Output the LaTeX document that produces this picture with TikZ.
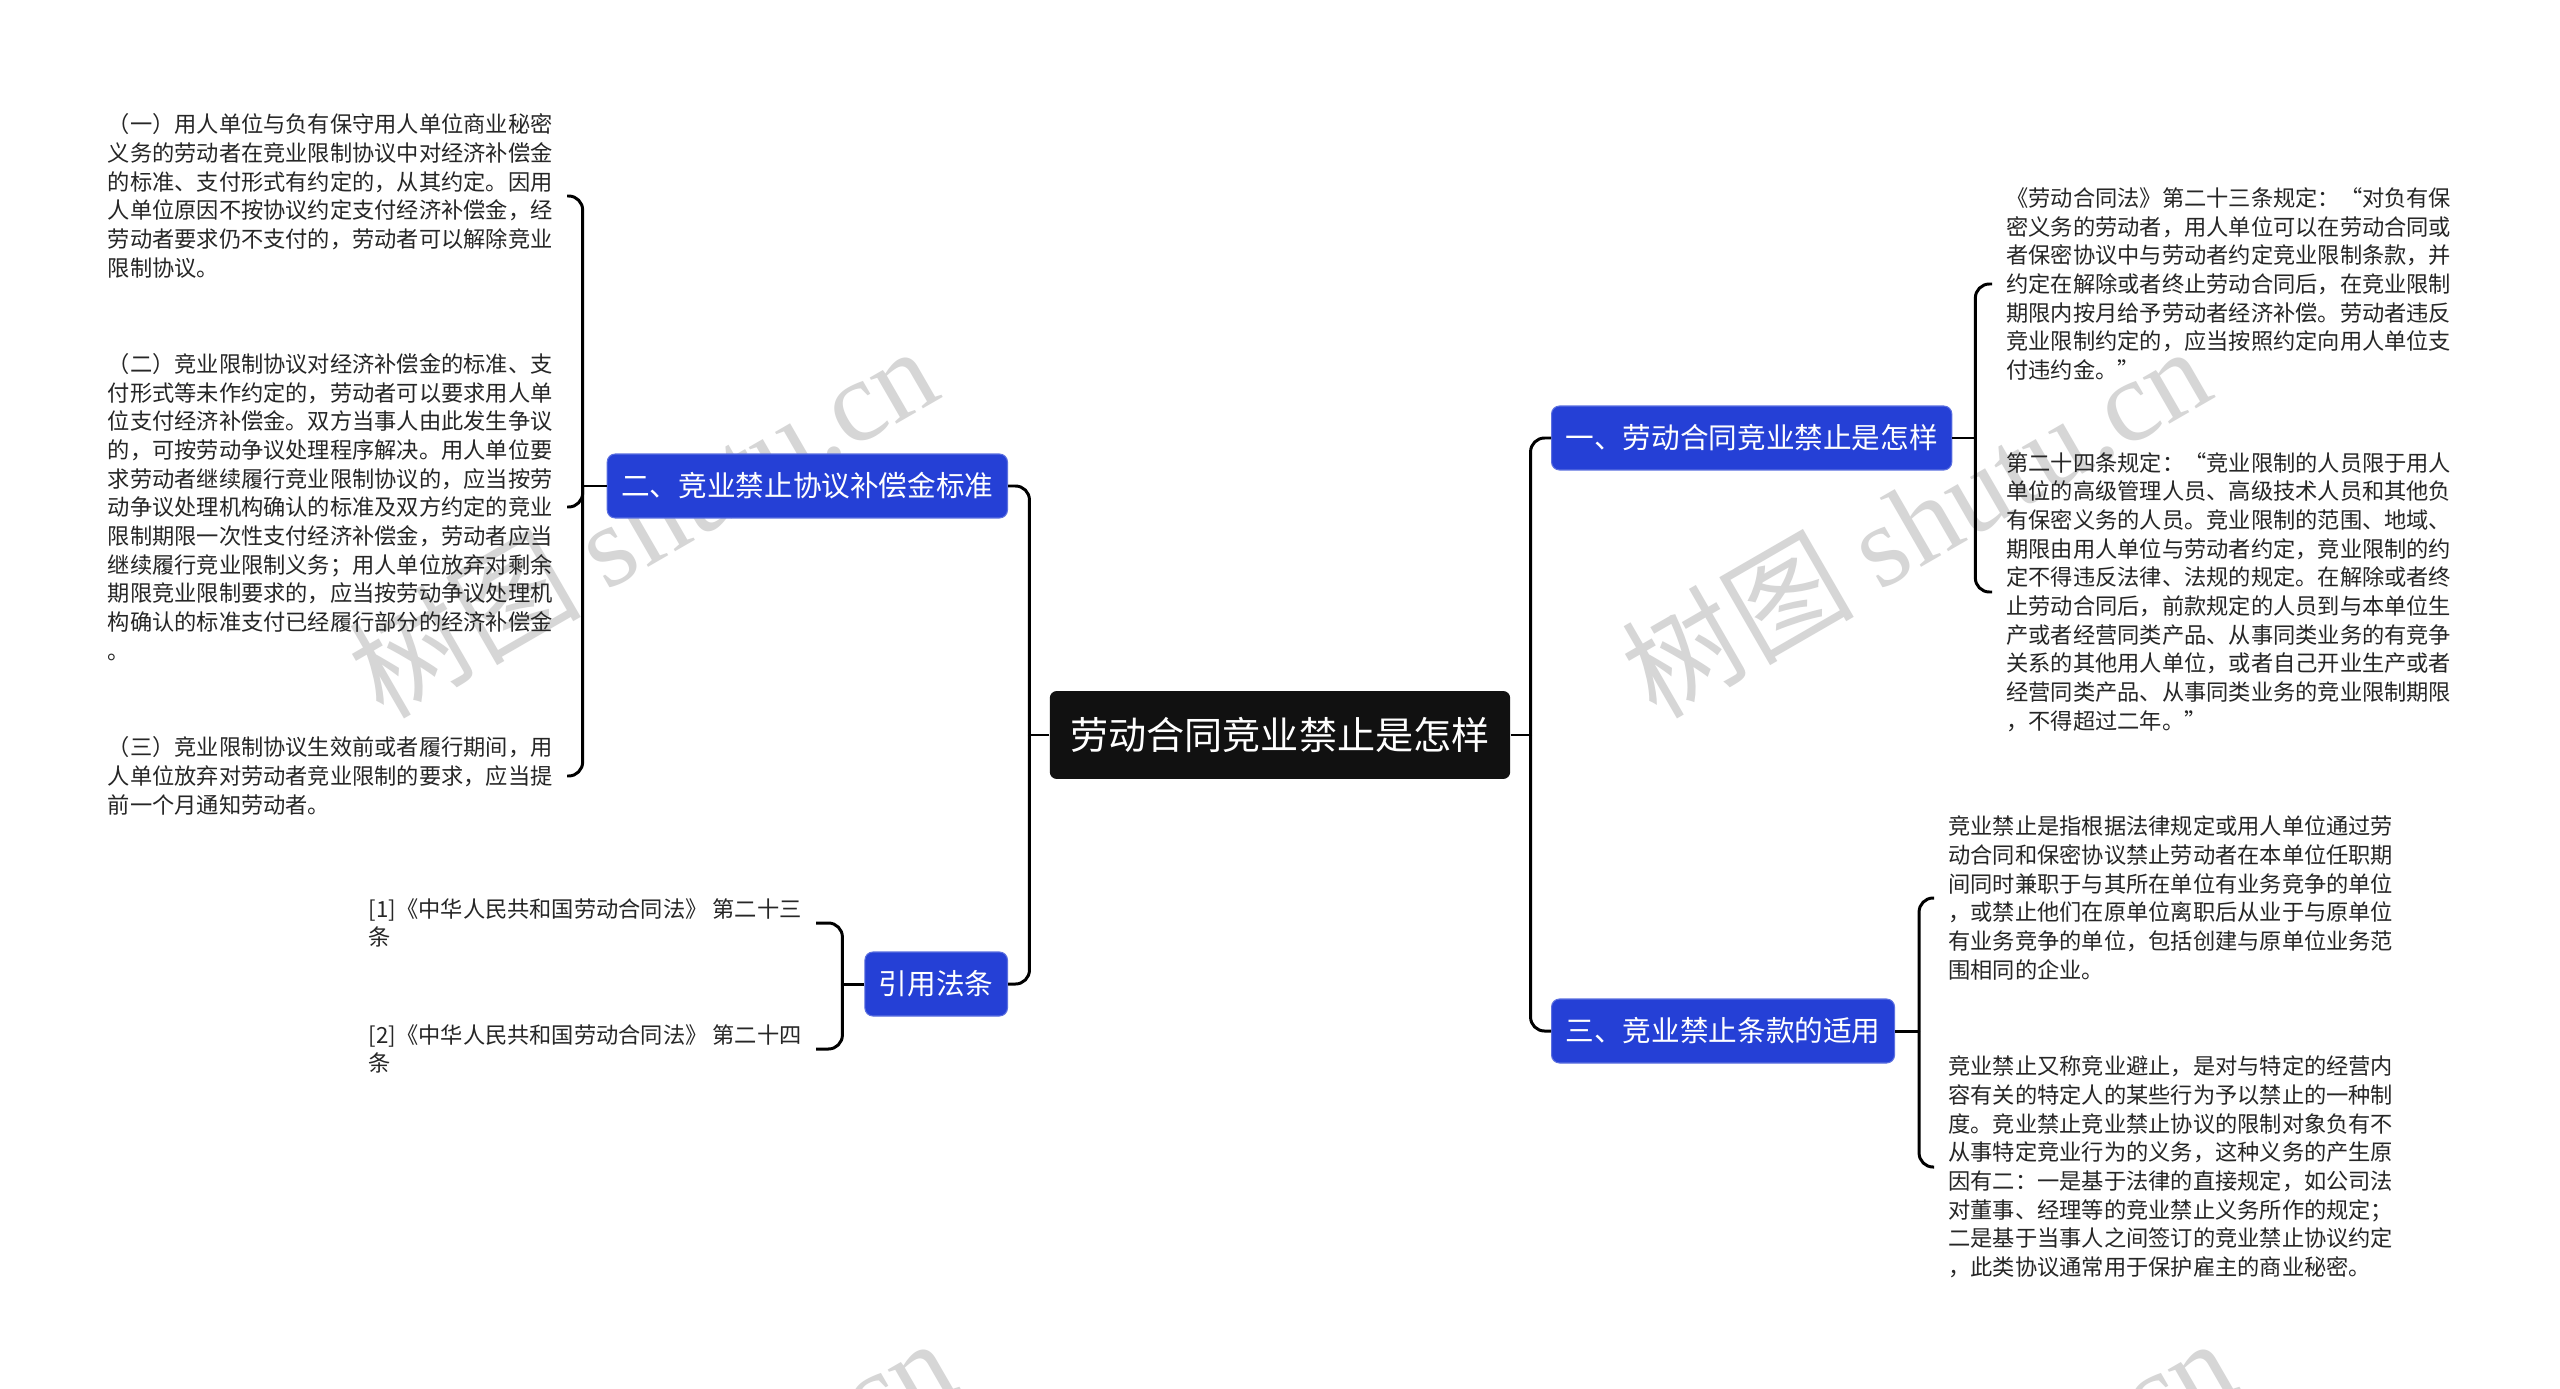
\documentclass[tikz,border=0pt]{standalone}
\usepackage{fontspec}
\setmainfont{Noto Sans CJK SC}
\newfontfamily\wmfont{Liberation Serif}
\definecolor{shutuBlue}{RGB}{37,64,214}
\definecolor{shutuDark}{RGB}{17,17,17}
\usepackage{tikz}
\usetikzlibrary{positioning}

\begin{document}
\begin{tikzpicture}[x=0.02cm, y=-0.02cm,
    rootbox/.style={fill=shutuDark, text=white, rounded corners=0.14cm,
      minimum height=1.76cm, inner xsep=0.41cm, font=\fontsize{21.7pt}{26pt}\selectfont},
    topic/.style={fill=shutuBlue, draw=shutuBlue!75!white, line width=0.6pt, text=white,
      rounded corners=0.16cm, minimum height=1.28cm, inner xsep=0.28cm,
      font=\fontsize{16.3pt}{20pt}\selectfont},
    leafnote/.style={align=left, inner xsep=0.28cm, inner ysep=0pt, text=black!85,
      font=\fontsize{12.66pt}{16.33pt}\selectfont},
    conn/.style={line width=1.7pt, rounded corners=0.28cm},
    wmark/.style={rotate=30, text=black!16, font=\fontsize{66pt}{66pt}\selectfont}
  ]
  \useasboundingbox[fill=white] (0,0) rectangle (2560,1389);
  \foreach \x/\y [count=\i] in {642/520, 1915/520, 660/1512, 1940/1512} {
    \node[wmark] (wm\i) at (\x,\y) {树图 {\wmfont shutu.cn}};
  }

  \node[rootbox] (root) at (1280,735) {劳动合同竞业禁止是怎样};
  \node[topic, anchor=east] (n2) at (1008,486) {二、竞业禁止协议补偿金标准};
  \node[topic, anchor=east] (n4) at (1008,984) {引用法条};
  \node[topic, anchor=west] (n1) at (1551,438) {一、劳动合同竞业禁止是怎样};
  \node[topic, anchor=west] (n3) at (1551,1031) {三、竞业禁止条款的适用};

  % left side
  \node[leafnote, anchor=east] (l21) at (567,196) {（一）用人单位与负有保守用人单位商业秘密\\
    义务的劳动者在竞业限制协议中对经济补偿金\\
    的标准、支付形式有约定的，从其约定。因用\\
    人单位原因不按协议约定支付经济补偿金，经\\
    劳动者要求仍不支付的，劳动者可以解除竞业\\
    限制协议。};
  \node[leafnote, anchor=east] (l22) at (567,507) {（二）竞业限制协议对经济补偿金的标准、支\\
    付形式等未作约定的，劳动者可以要求用人单\\
    位支付经济补偿金。双方当事人由此发生争议\\
    的，可按劳动争议处理程序解决。用人单位要\\
    求劳动者继续履行竞业限制协议的，应当按劳\\
    动争议处理机构确认的标准及双方约定的竞业\\
    限制期限一次性支付经济补偿金，劳动者应当\\
    继续履行竞业限制义务；用人单位放弃对剩余\\
    期限竞业限制要求的，应当按劳动争议处理机\\
    构确认的标准支付已经履行部分的经济补偿金\\
    。};
  \node[leafnote, anchor=east] (l23) at (567,776) {（三）竞业限制协议生效前或者履行期间，用\\
    人单位放弃对劳动者竞业限制的要求，应当提\\
    前一个月通知劳动者。};
  \node[leafnote, anchor=east] (l41) at (816,923) {[1]《中华人民共和国劳动合同法》 第二十三\\
    条};
  \node[leafnote, anchor=east] (l42) at (816,1049) {[2]《中华人民共和国劳动合同法》 第二十四\\
    条};

  % right side
  \node[leafnote, anchor=west] (l11) at (1992,284) {《劳动合同法》第二十三条规定：“对负有保\\
    密义务的劳动者，用人单位可以在劳动合同或\\
    者保密协议中与劳动者约定竞业限制条款，并\\
    约定在解除或者终止劳动合同后，在竞业限制\\
    期限内按月给予劳动者经济补偿。劳动者违反\\
    竞业限制约定的，应当按照约定向用人单位支\\
    付违约金。”};
  \node[leafnote, anchor=west] (l12) at (1992,592) {第二十四条规定：“竞业限制的人员限于用人\\
    单位的高级管理人员、高级技术人员和其他负\\
    有保密义务的人员。竞业限制的范围、地域、\\
    期限由用人单位与劳动者约定，竞业限制的约\\
    定不得违反法律、法规的规定。在解除或者终\\
    止劳动合同后，前款规定的人员到与本单位生\\
    产或者经营同类产品、从事同类业务的有竞争\\
    关系的其他用人单位，或者自己开业生产或者\\
    经营同类产品、从事同类业务的竞业限制期限\\
    ，不得超过二年。”};
  \node[leafnote, anchor=west] (l31) at (1934,898) {竞业禁止是指根据法律规定或用人单位通过劳\\
    动合同和保密协议禁止劳动者在本单位任职期\\
    间同时兼职于与其所在单位有业务竞争的单位\\
    ，或禁止他们在原单位离职后从业于与原单位\\
    有业务竞争的单位，包括创建与原单位业务范\\
    围相同的企业。};
  \node[leafnote, anchor=west] (l32) at (1934,1167) {竞业禁止又称竞业避止，是对与特定的经营内\\
    容有关的特定人的某些行为予以禁止的一种制\\
    度。竞业禁止竞业禁止协议的限制对象负有不\\
    从事特定竞业行为的义务，这种义务的产生原\\
    因有二：一是基于法律的直接规定，如公司法\\
    对董事、经理等的竞业禁止义务所作的规定；\\
    二是基于当事人之间签订的竞业禁止协议约定\\
    ，此类协议通常用于保护雇主的商业秘密。};

  % connectors
  \coordinate[left=0.4cm of root.west] (lt);
  \coordinate[right=0.4cm of root.east] (rt);
  \draw[conn] (root.west) -- (lt);
  \draw[conn] (root.east) -- (rt);
  \draw[conn] (lt) |- (n2.east);
  \draw[conn] (lt) |- (n4.east);
  \draw[conn] (rt) |- (n1.west);
  \draw[conn] (rt) |- (n3.west);

  \coordinate[left=0.48cm of n2.west] (b2);
  \coordinate[left=0.44cm of n4.west] (b4);
  \coordinate[right=0.46cm of n1.east] (b1);
  \coordinate[right=0.48cm of n3.east] (b3);
  \draw[conn] (n2.west) -- (b2);
  \draw[conn] (n4.west) -- (b4);
  \draw[conn] (n1.east) -- (b1);
  \draw[conn] (n3.east) -- (b3);
  \foreach \l in {l21,l22,l23} {
    \draw[conn] (b2) |- (\l.east);
  }
  \foreach \l in {l41,l42} {
    \draw[conn] (b4) |- (\l.east);
  }
  \foreach \l in {l11,l12} {
    \draw[conn] (b1) |- (\l.west);
  }
  \foreach \l in {l31,l32} {
    \draw[conn] (b3) |- (\l.west);
  }
\end{tikzpicture}
\end{document}
